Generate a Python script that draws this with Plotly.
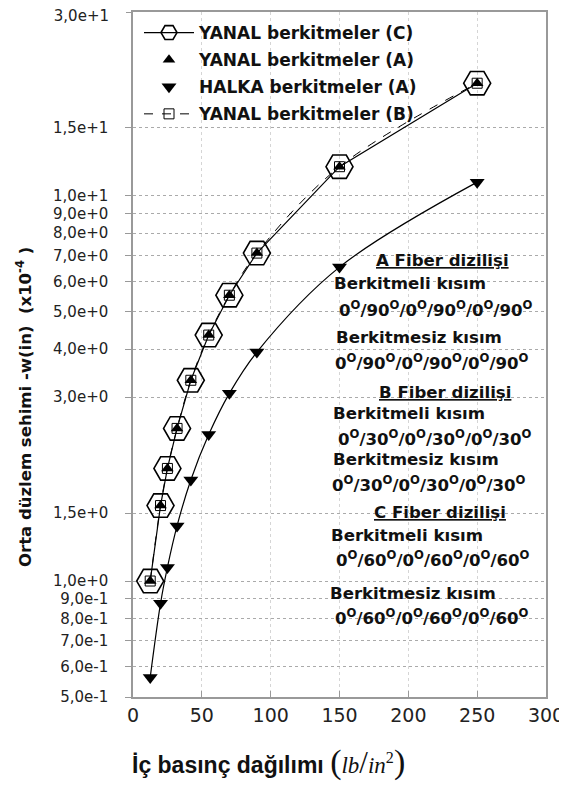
import plotly.graph_objects as go

# ---- data ----
pressure = [12.5, 20, 25, 32, 42, 55, 70, 90, 150, 250]
yanal_C = [1.0, 1.57, 1.96, 2.49, 3.32, 4.35, 5.52, 7.1, 11.9, 19.6]
yanal_A = [1.0, 1.57, 1.96, 2.49, 3.32, 4.35, 5.52, 7.1, 11.9, 19.6]
yanal_B = [1.0, 1.57, 1.96, 2.49, 3.32, 4.35, 5.52, 7.1, 11.9, 19.6]
halka_A = [0.562, 0.875, 1.085, 1.39, 1.83, 2.40, 3.07, 3.93, 6.53, 10.85]

y_tickvals = [30, 15, 10, 9, 8, 7, 6, 5, 4, 3, 1.5, 1.0, 0.9, 0.8, 0.7, 0.6, 0.5]
y_ticktext = ["3,0e+1", "1,5e+1", "1,0e+1", "9,0e+0", "8,0e+0", "7,0e+0", "6,0e+0",
              "5,0e+0", "4,0e+0", "3,0e+0", "1,5e+0", "1,0e+0", "9,0e-1", "8,0e-1",
              "7,0e-1", "6,0e-1", "5,0e-1"]
x_tickvals = [0, 50, 100, 150, 200, 250, 300]

series_names = ["YANAL berkitmeler (C)", "YANAL berkitmeler (A)",
                "HALKA berkitmeler (A)", "YANAL berkitmeler (B)"]

DEG = "<sup>O</sup>"
def layup(a):
    return "/".join(["0" + DEG, a + DEG] * 3)

notes = [
    ("<u>A Fiber dizilişi</u>", 442, 260, "center"),
    ("Berkitmeli kısım", 332, 283, "left"),
    (layup("90"), 337, 309, "left"),
    ("Berkitmesiz kısım", 334, 337, "left"),
    (layup("90"), 333, 362, "left"),
    ("<u>B Fiber dizilişi</u>", 445, 392, "center"),
    ("Berkitmeli kısım", 331, 413, "left"),
    (layup("30"), 336, 438, "left"),
    ("Berkitmesiz kısım", 331, 459, "left"),
    (layup("30"), 330, 484, "left"),
    ("<u>C Fiber dizilişi</u>", 440, 512, "center"),
    ("Berkitmeli kısım", 329, 535, "left"),
    (layup("60"), 334, 559, "left"),
    ("Berkitmesiz kısım", 328, 593, "left"),
    (layup("60"), 333, 617, "left"),
]

# ---- layout geometry (page pixels; page body has an 8px offset) ----
OFF = 8
PAGE_W, PAGE_H = 567, 789
L, R, T, B = 133, 546, 12, 697
pw, ph = R - L, B - T
FIG_W, FIG_H = PAGE_W - OFF, PAGE_H - OFF

def px(xp):
    return (xp - L) / pw

def py(yp):
    return (B - yp) / ph

SANS = "DejaVu Sans, Arial"
YRANGE = [-0.30103, 1.47712]

fig = go.Figure()

# HALKA line (no legend entry)
fig.add_trace(go.Scatter(x=pressure, y=halka_A, mode="lines", line=dict(color="black", width=1.2, shape="spline"),
                         showlegend=False, hoverinfo="skip"))
# YANAL C: solid line + open hexagons
fig.add_trace(go.Scatter(x=pressure, y=yanal_C, mode="lines+markers", name=series_names[0],
                         legendgroup="c", legendrank=1,
                         line=dict(color="black", width=1.2),
                         marker=dict(symbol="hexagon2-open", size=27, color="black", line=dict(width=1.6, color="black"))))
# YANAL B: dashed spline + open squares
fig.add_trace(go.Scatter(x=pressure, y=yanal_B, mode="lines+markers", name=series_names[3],
                         legendgroup="b", legendrank=4,
                         line=dict(color="black", width=1, dash="dash", shape="spline"),
                         marker=dict(symbol="square-open", size=10, color="black", line=dict(width=1, color="black"))))
# YANAL A: up triangles
fig.add_trace(go.Scatter(x=pressure, y=yanal_A, mode="markers", name=series_names[1],
                         legendgroup="a", legendrank=2,
                         marker=dict(symbol="triangle-up", size=11, color="black")))
# HALKA A: down triangles
fig.add_trace(go.Scatter(x=pressure, y=halka_A, mode="markers", name=series_names[2],
                         legendgroup="h", legendrank=3,
                         marker=dict(symbol="triangle-down", size=13, color="black")))
# empty trace so the overlay axis (carrying the top tick label) is drawn
fig.add_trace(go.Scatter(x=[None], y=[None], yaxis="y2", showlegend=False, hoverinfo="skip", mode="markers"))

fig.for_each_trace(lambda t: t.update(name="<b>" + t.name + "</b>") if t.name else None)

annotations = []
for txt, xp, yp, anchor in notes:
    annotations.append(dict(text="<b>" + txt + "</b>", x=px(xp), y=py(yp), xref="paper", yref="paper",
                            xanchor=anchor, yanchor="middle", showarrow=False,
                            font=dict(family=SANS, size=16.6, color="#111")))

# y-axis title
annotations.append(dict(text="<b>Orta düzlem sehimi -w(in)  (x10<sup>-4</sup> )</b>", x=px(24), y=py(407),
                        xref="paper", yref="paper", xanchor="center", yanchor="middle", textangle=-90,
                        showarrow=False, font=dict(family=SANS, size=16.5, color="#111")))
# x-axis title
annotations.append(dict(text="<b>İç basınç dağılımı</b> <span style='font-family:Liberation Serif, Times New Roman'>"
                             "<span style='font-size:34px'>(</span><i>lb</i><span style='font-size:31px'>/</span><i>in</i><sup>2</sup>"
                             "<span style='font-size:34px'>)</span></span>",
                        x=px(268), y=py(762), xref="paper", yref="paper", xanchor="center", yanchor="middle",
                        showarrow=False, font=dict(family="Liberation Sans, Arial", size=23, color="#111")))

fig.update_layout(
    width=FIG_W, height=FIG_H,
    margin=dict(l=L - OFF, r=OFF + FIG_W - R, t=T - OFF, b=OFF + FIG_H - B, pad=0, autoexpand=False),
    paper_bgcolor="white", plot_bgcolor="white",
    showlegend=True,
    legend=dict(x=px(139), y=py(15), xanchor="left", yanchor="top", bgcolor="rgba(0,0,0,0)",
                font=dict(family=SANS, size=17, color="#111"),
                itemwidth=50, tracegroupgap=2, traceorder="grouped", itemsizing="trace"),
    annotations=annotations,
)

fig.update_xaxes(range=[0, 300], tickvals=x_tickvals, ticktext=[str(v) for v in x_tickvals],
                 showgrid=True, gridcolor="#d5d5d5", griddash="dot", gridwidth=1,
                 showline=True, linecolor="#999", linewidth=1.5, mirror=True,
                 ticks="inside", ticklen=6, tickcolor="#999", zeroline=False,
                 ticklabeloverflow="allow",
                 tickfont=dict(family=SANS, size=19, color="#222"))
fig.update_layout(
    yaxis=dict(type="log", range=YRANGE, tickvals=y_tickvals[1:], ticktext=y_ticktext[1:],
               showgrid=True, gridcolor="#aaaaaa", griddash="dot", gridwidth=1,
               showline=True, linecolor="#999", linewidth=1.5, mirror=True,
               ticks="outside", ticklen=6, tickcolor="#999", zeroline=False,
               ticklabelstandoff=14, ticklabeloverflow="allow",
               tickfont=dict(family=SANS, size=15, color="#222")),
    yaxis2=dict(type="log", range=YRANGE, overlaying="y", side="left", anchor="x",
                tickvals=y_tickvals[:1], ticktext=y_ticktext[:1],
                showgrid=False, showline=False, zeroline=False,
                ticks="outside", ticklen=6, tickcolor="#999",
                ticklabelstandoff=14, ticklabelshift=4, ticklabeloverflow="allow",
                tickfont=dict(family=SANS, size=15, color="#222")),
)

fig.write_html("out.html")
